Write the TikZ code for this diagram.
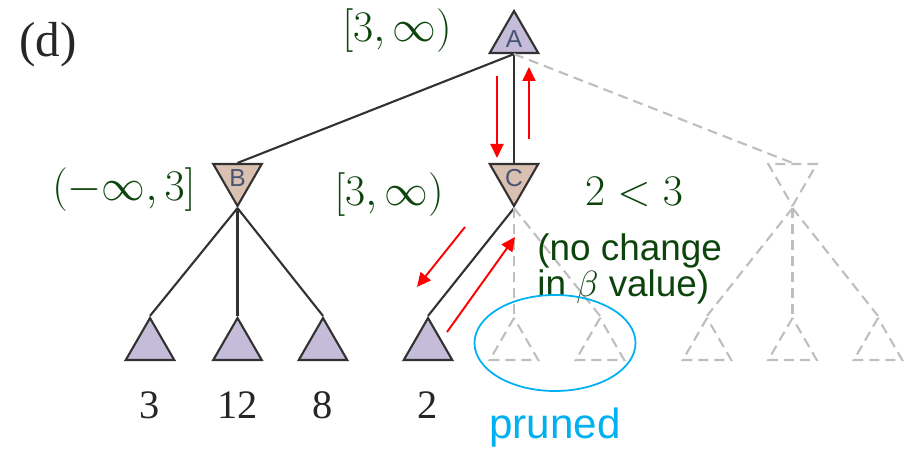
\documentclass[tikz,border=0pt]{standalone}
\usepackage{fontspec}
\setmainfont{Liberation Serif}
\newfontfamily\sansfont{Liberation Sans}
\usetikzlibrary{shapes.geometric,arrows.meta}
\definecolor{boundgreen}{RGB}{12,68,12}
\definecolor{maxfill}{RGB}{196,188,216}
\definecolor{minfill}{RGB}{217,192,176}
\definecolor{letterblue}{RGB}{72,84,116}
\definecolor{prunedblue}{RGB}{0,176,240}
\definecolor{ghost}{RGB}{190,190,190}
\definecolor{edgegray}{RGB}{50,50,50}
\tikzset{
  tri/.style={regular polygon, regular polygon sides=3, minimum size=1.12cm,
    inner sep=0pt, line width=1.2pt},
  maxnode/.style={tri, draw=edgegray, fill=maxfill, text=letterblue,
    font=\sansfont\fontsize{14}{14}\selectfont},
  minnode/.style={maxnode, shape border rotate=180, fill=minfill},
  ghostmax/.style={tri, draw=ghost, dash pattern=on 0.2cm off 0.12cm},
  ghostmin/.style={ghostmax, shape border rotate=180},
  edge/.style={draw=edgegray, line width=1.2pt},
  ghostedge/.style={draw=ghost, line width=1.2pt, dash pattern=on 0.2cm off 0.12cm},
  flow/.style={red, line width=1.1pt, -{Triangle[length=0.28cm,width=0.26cm]}},
  bound/.style={text=boundgreen, inner sep=0pt, font=\fontsize{24}{24}\selectfont},
  value/.style={text=black!85, font=\fontsize{23}{23}\selectfont}
}
\begin{document}
\begin{tikzpicture}
  \useasboundingbox (0,0) rectangle (18.08,9.06);
  \node[text=black!85, font=\fontsize{28}{28}\selectfont] (tag) at (0.96,8.16) {(d)};
  % max root and min nodes
  \node[maxnode] (A) at (10.28,8.28) {A};
  \node[minnode] (B) at (4.75,5.50) {B};
  \node[minnode] (C) at (10.28,5.50) {C};
  \node[ghostmin] (D) at (15.85,5.50) {};
  % leaves
  \node[maxnode] (l1) at (3.00,2.14) {};
  \node[maxnode] (l2) at (4.75,2.14) {};
  \node[maxnode] (l3) at (6.46,2.14) {};
  \node[maxnode] (l4) at (8.56,2.14) {};
  \node[ghostmax] (l5) at (10.28,2.14) {};
  \node[ghostmax] (l6) at (12.00,2.14) {};
  \node[ghostmax] (l7) at (14.14,2.14) {};
  \node[ghostmax] (l8) at (15.85,2.14) {};
  \node[ghostmax] (l9) at (17.56,2.14) {};
  % edges
  \draw[edge] (A.side 2) -- (B.side 2);
  \draw[edge] (A.side 2) -- (C.side 2);
  \draw[ghostedge] (A.side 2) -- (D.side 2);
  \foreach \l in {l1,l2,l3}
    \draw[edge] (B.corner 1) -- (\l.corner 1);
  \draw[edge] (C.corner 1) -- (l4.corner 1);
  \foreach \l in {l5,l6}
    \draw[ghostedge] (C.corner 1) -- (\l.corner 1);
  \foreach \l in {l7,l8,l9}
    \draw[ghostedge] (D.corner 1) -- (\l.corner 1);
  % leaf values
  \node[value] (v1) at (3.00,0.96) {3};
  \node[value] (v2) at (4.75,0.96) {12};
  \node[value] (v3) at (6.46,0.96) {8};
  \node[value] (v4) at (8.56,0.96) {2};
  % alpha-beta windows
  \node[bound] (wA) at (7.94,8.45) {$[3,\infty)$};
  \node[bound] (wB) at (2.48,5.26) {$(-\infty,3]$};
  \node[bound] (wC) at (7.78,5.16) {$[3,\infty)$};
  \node[text=boundgreen, font=\fontsize{30}{30}\selectfont] (cmp) at (12.68,5.22) {$2<3$};
  \node[text=boundgreen, font=\sansfont\fontsize{21}{20}\selectfont, align=left,
    anchor=west, inner sep=0pt] (note) at (10.74,3.68) {(no change\\in $\beta$ value)};
  % pruned part
  \draw[prunedblue, line width=1pt] (11.10,2.20) ellipse [x radius=1.61, y radius=0.96];
  \node[text=prunedblue, font=\sansfont\fontsize{24}{24}\selectfont] (pr) at (11.10,0.50) {pruned};
  % search order
  \coordinate (f1) at (9.94,7.54);  \coordinate (t1) at (9.94,5.90);
  \coordinate (f2) at (10.58,6.28); \coordinate (t2) at (10.58,7.72);
  \coordinate (f3) at (9.30,4.52);  \coordinate (t3) at (8.34,3.32);
  \coordinate (f4) at (8.94,2.42);  \coordinate (t4) at (10.30,4.32);
  \draw[flow] (f1) -- (t1);
  \draw[flow] (f2) -- (t2);
  \draw[flow] (f3) -- (t3);
  \draw[flow] (f4) -- (t4);
\end{tikzpicture}
\end{document}
